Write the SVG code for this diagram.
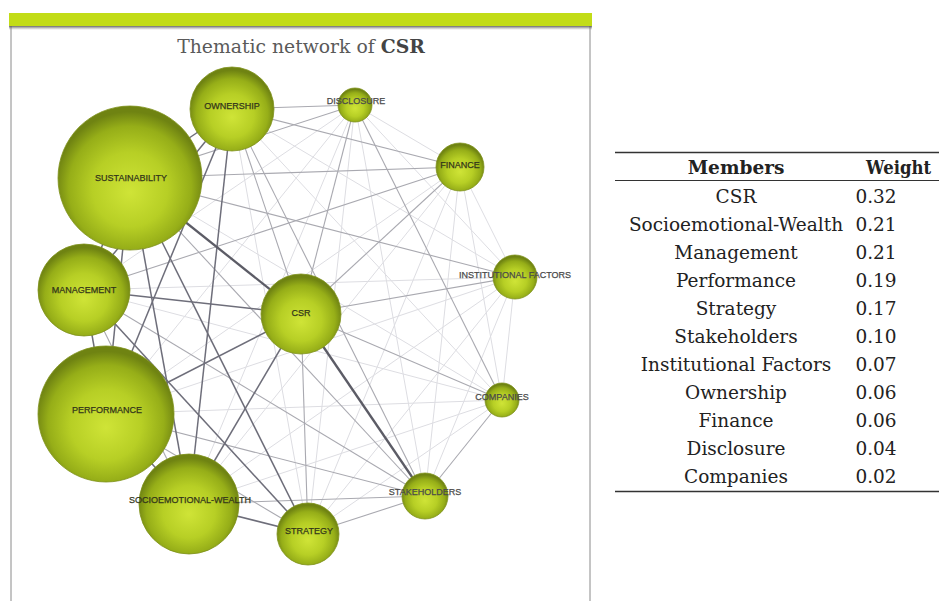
<svg xmlns="http://www.w3.org/2000/svg" width="939" height="601" viewBox="0 0 939 601">
  <style>
    .e-xs { stroke: #5c5c66; stroke-width: 2.3; }
    .e-s  { stroke: #6e6e7a; stroke-width: 1.5; }
    .e-m  { stroke: #a9a9b0; stroke-width: 1.1; }
    .e-l  { stroke: #dddde2; stroke-width: 1; }
    .ball { fill: url(#ballFill); stroke: #7f921c; stroke-width: 0.8; }
    .lbl  { font-family: "Liberation Sans", "DejaVu Sans", sans-serif; font-size: 9px; fill: #33361a; stroke: #33361a; stroke-width: 0.25; text-anchor: middle; dominant-baseline: central; }
    .lbl-o { fill: #4a4a4a; stroke: #4a4a4a; }
    .title { font-family: "DejaVu Serif", "Liberation Serif", serif; font-size: 18.8px; fill: #5a5a5a; text-anchor: middle; }
    .cell { font-family: "DejaVu Serif", "Liberation Serif", serif; font-size: 18.5px; fill: #222; text-anchor: middle; }
    .head { font-weight: bold; }
    .w { text-anchor: start; }
    .rule { stroke: #333; }
  </style>
  <defs>
    <radialGradient id="ballFill" cx="50%" cy="56%" r="52%" fx="50%" fy="60%">
      <stop offset="0" stop-color="#cfe437"/>
      <stop offset="0.5" stop-color="#b7cf25"/>
      <stop offset="0.82" stop-color="#96ae18"/>
      <stop offset="1" stop-color="#6f8312"/>
    </radialGradient>
    <linearGradient id="barShadow" x1="0" y1="0" x2="0" y2="1">
      <stop offset="0" stop-color="#444" stop-opacity="0.8"/>
      <stop offset="1" stop-color="#888" stop-opacity="0"/>
    </linearGradient>
  </defs>

  <rect width="939" height="601" fill="#ffffff"/>

  <!-- panel frame -->
  <g id="panel">
    <line x1="11" y1="26" x2="11" y2="601" stroke="#8a8a8a" stroke-width="1"/>
    <line x1="590" y1="26" x2="590" y2="601" stroke="#8a8a8a" stroke-width="1"/>
    <rect x="9" y="26" width="583" height="4" fill="url(#barShadow)"/>
    <rect x="9" y="13" width="583" height="13" fill="#c2dc17"/>
    <text class="title" x="301" y="53">Thematic network of <tspan font-weight="bold" fill="#444">CSR</tspan></text>
  </g>

  <!-- connectors -->
  <g id="connectors" fill="none">
    <!-- light -->
    <line class="e-l" x1="130" y1="178" x2="502" y2="400"/>
    <line class="e-l" x1="232" y1="109" x2="515" y2="277"/>
    <line class="e-l" x1="232" y1="109" x2="308" y2="534"/>
    <line class="e-l" x1="232" y1="109" x2="502" y2="400"/>
    <line class="e-l" x1="355" y1="105" x2="460" y2="167"/>
    <line class="e-l" x1="355" y1="105" x2="515" y2="277"/>
    <line class="e-l" x1="355" y1="105" x2="84" y2="290"/>
    <line class="e-l" x1="355" y1="105" x2="106" y2="414"/>
    <line class="e-l" x1="355" y1="105" x2="189" y2="504"/>
    <line class="e-l" x1="355" y1="105" x2="308" y2="534"/>
    <line class="e-l" x1="355" y1="105" x2="425" y2="496"/>
    <line class="e-l" x1="460" y1="167" x2="515" y2="277"/>
    <line class="e-l" x1="460" y1="167" x2="106" y2="414"/>
    <line class="e-l" x1="460" y1="167" x2="189" y2="504"/>
    <line class="e-l" x1="460" y1="167" x2="308" y2="534"/>
    <line class="e-l" x1="460" y1="167" x2="425" y2="496"/>
    <line class="e-l" x1="460" y1="167" x2="502" y2="400"/>
    <line class="e-l" x1="515" y1="277" x2="84" y2="290"/>
    <line class="e-l" x1="515" y1="277" x2="106" y2="414"/>
    <line class="e-l" x1="515" y1="277" x2="189" y2="504"/>
    <line class="e-l" x1="515" y1="277" x2="308" y2="534"/>
    <line class="e-l" x1="515" y1="277" x2="425" y2="496"/>
    <line class="e-l" x1="515" y1="277" x2="502" y2="400"/>
    <line class="e-l" x1="84" y1="290" x2="502" y2="400"/>
    <line class="e-l" x1="106" y1="414" x2="502" y2="400"/>
    <line class="e-l" x1="189" y1="504" x2="502" y2="400"/>
    <line class="e-l" x1="308" y1="534" x2="502" y2="400"/>
    <!-- medium -->
    <line class="e-m" x1="130" y1="178" x2="355" y2="105"/>
    <line class="e-m" x1="130" y1="178" x2="460" y2="167"/>
    <line class="e-m" x1="130" y1="178" x2="515" y2="277"/>
    <line class="e-m" x1="130" y1="178" x2="425" y2="496"/>
    <line class="e-m" x1="232" y1="109" x2="355" y2="105"/>
    <line class="e-m" x1="232" y1="109" x2="460" y2="167"/>
    <line class="e-m" x1="232" y1="109" x2="301" y2="314"/>
    <line class="e-m" x1="232" y1="109" x2="425" y2="496"/>
    <line class="e-m" x1="355" y1="105" x2="301" y2="314"/>
    <line class="e-m" x1="355" y1="105" x2="502" y2="400"/>
    <line class="e-m" x1="460" y1="167" x2="301" y2="314"/>
    <line class="e-m" x1="460" y1="167" x2="84" y2="290"/>
    <line class="e-m" x1="515" y1="277" x2="301" y2="314"/>
    <line class="e-m" x1="301" y1="314" x2="308" y2="534"/>
    <line class="e-m" x1="301" y1="314" x2="502" y2="400"/>
    <line class="e-m" x1="84" y1="290" x2="189" y2="504"/>
    <line class="e-m" x1="84" y1="290" x2="425" y2="496"/>
    <line class="e-m" x1="106" y1="414" x2="308" y2="534"/>
    <line class="e-m" x1="106" y1="414" x2="425" y2="496"/>
    <line class="e-m" x1="189" y1="504" x2="425" y2="496"/>
    <line class="e-m" x1="308" y1="534" x2="425" y2="496"/>
    <line class="e-m" x1="425" y1="496" x2="502" y2="400"/>
    <!-- strong -->
    <line class="e-s" x1="130" y1="178" x2="232" y2="109"/>
    <line class="e-s" x1="130" y1="178" x2="84" y2="290"/>
    <line class="e-s" x1="130" y1="178" x2="106" y2="414"/>
    <line class="e-s" x1="130" y1="178" x2="189" y2="504"/>
    <line class="e-s" x1="130" y1="178" x2="308" y2="534"/>
    <line class="e-s" x1="232" y1="109" x2="84" y2="290"/>
    <line class="e-s" x1="232" y1="109" x2="106" y2="414"/>
    <line class="e-s" x1="232" y1="109" x2="189" y2="504"/>
    <line class="e-s" x1="301" y1="314" x2="84" y2="290"/>
    <line class="e-s" x1="301" y1="314" x2="106" y2="414"/>
    <line class="e-s" x1="301" y1="314" x2="189" y2="504"/>
    <line class="e-s" x1="84" y1="290" x2="106" y2="414"/>
    <line class="e-s" x1="84" y1="290" x2="308" y2="534"/>
    <line class="e-s" x1="106" y1="414" x2="189" y2="504"/>
    <line class="e-s" x1="189" y1="504" x2="308" y2="534"/>
    <!-- heaviest -->
    <line class="e-xs" x1="130" y1="178" x2="301" y2="314"/>
    <line class="e-xs" x1="301" y1="314" x2="425" y2="496"/>
  </g>

  <!-- nodes -->
  <g id="n-sustainability"><circle class="ball" cx="130" cy="178" r="72"/><text class="lbl" x="131" y="178">SUSTAINABILITY</text></g>
  <g id="n-ownership"><circle class="ball" cx="232" cy="109" r="42"/><text class="lbl" x="232" y="106">OWNERSHIP</text></g>
  <g id="n-disclosure"><circle class="ball" cx="355" cy="105" r="17"/><text class="lbl lbl-o" x="356" y="101">DISCLOSURE</text></g>
  <g id="n-finance"><circle class="ball" cx="460" cy="167" r="24"/><text class="lbl" x="460" y="165">FINANCE</text></g>
  <g id="n-institutional"><circle class="ball" cx="515" cy="277" r="22"/><text class="lbl lbl-o" x="515" y="275">INSTITUTIONAL FACTORS</text></g>
  <g id="n-csr"><circle class="ball" cx="301" cy="314" r="40"/><text class="lbl" x="301" y="313">CSR</text></g>
  <g id="n-management"><circle class="ball" cx="84" cy="290" r="46"/><text class="lbl" x="84" y="290">MANAGEMENT</text></g>
  <g id="n-performance"><circle class="ball" cx="106" cy="414" r="68"/><text class="lbl" x="107" y="410">PERFORMANCE</text></g>
  <g id="n-socioemotional"><circle class="ball" cx="189" cy="504" r="50"/><text class="lbl" x="190" y="500">SOCIOEMOTIONAL-WEALTH</text></g>
  <g id="n-strategy"><circle class="ball" cx="308" cy="534" r="31"/><text class="lbl" x="309" y="531">STRATEGY</text></g>
  <g id="n-stakeholders"><circle class="ball" cx="425" cy="496" r="23"/><text class="lbl lbl-o" x="425" y="492">STAKEHOLDERS</text></g>
  <g id="n-companies"><circle class="ball" cx="502" cy="400" r="17"/><text class="lbl lbl-o" x="502" y="397">COMPANIES</text></g>

  <!-- members / weight table -->
  <g id="table">
    <line class="rule" x1="615" y1="152.5" x2="939" y2="152.5" stroke-width="1.5"/>
    <line class="rule" x1="615" y1="180.5" x2="939" y2="180.5" stroke-width="1"/>
    <line class="rule" x1="615" y1="491.5" x2="939" y2="491.5" stroke-width="1.5"/>
    <text class="cell head" x="736" y="174">Members</text>
    <text class="cell head w" x="866" y="174" textLength="65" lengthAdjust="spacingAndGlyphs">Weight</text>
    <text class="cell" x="736" y="203">CSR</text><text class="cell" x="876" y="203">0.32</text>
    <text class="cell" x="736" y="231">Socioemotional-Wealth</text><text class="cell" x="876" y="231">0.21</text>
    <text class="cell" x="736" y="259">Management</text><text class="cell" x="876" y="259">0.21</text>
    <text class="cell" x="736" y="287">Performance</text><text class="cell" x="876" y="287">0.19</text>
    <text class="cell" x="736" y="315">Strategy</text><text class="cell" x="876" y="315">0.17</text>
    <text class="cell" x="736" y="343">Stakeholders</text><text class="cell" x="876" y="343">0.10</text>
    <text class="cell" x="736" y="371">Institutional Factors</text><text class="cell" x="876" y="371">0.07</text>
    <text class="cell" x="736" y="399">Ownership</text><text class="cell" x="876" y="399">0.06</text>
    <text class="cell" x="736" y="427">Finance</text><text class="cell" x="876" y="427">0.06</text>
    <text class="cell" x="736" y="455">Disclosure</text><text class="cell" x="876" y="455">0.04</text>
    <text class="cell" x="736" y="483">Companies</text><text class="cell" x="876" y="483">0.02</text>
  </g>
</svg>
